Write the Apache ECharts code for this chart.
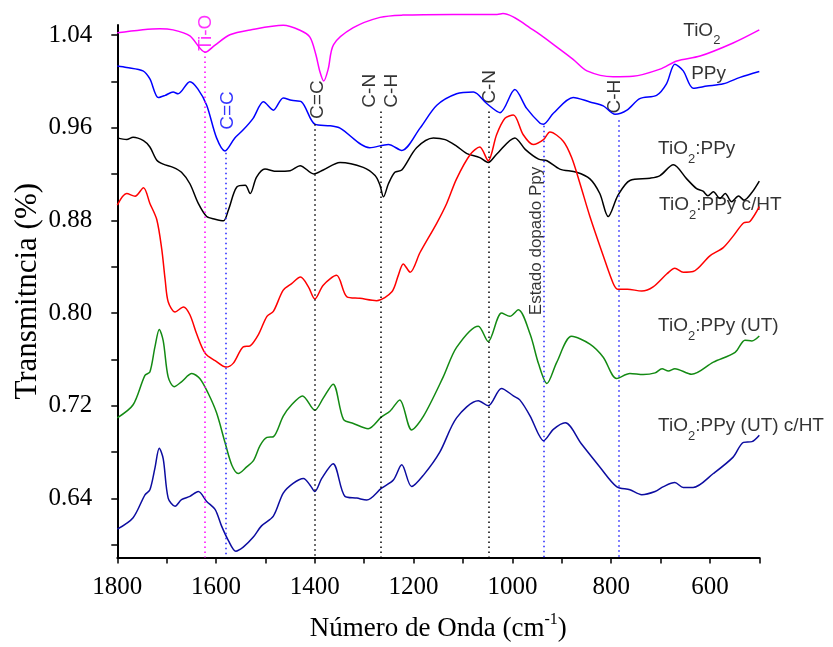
<!DOCTYPE html>
<html>
<head>
<meta charset="utf-8">
<script src="https://cdn.jsdelivr.net/npm/echarts@6/dist/echarts.min.js"></script>
<style>
html, body { margin: 0; padding: 0; background: #fff; }
#eChartIR { width: 833px; height: 647px; }
</style>
</head>
<body>
<div id="eChartIR"></div>
<script>
// [numero de onda, transmitancia]
var tio2 = [
    [1800, 1.0417], [1714, 1.0454], [1687, 1.0443], [1653, 1.039], [1622, 1.0247],
    [1602, 1.031], [1572, 1.040], [1531, 1.0443], [1464, 1.0484], [1430, 1.044],
    [1410, 1.038], [1398, 1.0227], [1390, 1.008], [1382, 0.9994], [1373, 1.0098],
    [1362, 1.0314], [1323, 1.046], [1268, 1.0553], [1222, 1.0573], [1120, 1.0579],
    [1031, 1.0579], [1019, 1.0587], [958, 1.0443], [903, 1.027], [877, 1.0184],
    [849, 1.0083], [796, 1.0031], [756, 1.0035], [701, 1.0098], [667, 1.017],
    [620, 1.0213], [553, 1.0328], [500, 1.0443]
];
var ppy = [
    [1800, 1.0126], [1781, 1.0113], [1748, 1.0083], [1734, 1.0012], [1717, 0.9848],
    [1703, 0.9868], [1687, 0.9897], [1677, 0.9882], [1653, 0.9988], [1637, 0.9925],
    [1619, 0.9781], [1599, 0.9494], [1582, 0.9379], [1562, 0.9494], [1545, 0.9565],
    [1525, 0.9666], [1504, 0.9811], [1484, 0.9738], [1464, 0.9845], [1447, 0.9824],
    [1427, 0.9811], [1400, 0.9615], [1369, 0.960], [1349, 0.958], [1289, 0.9408],
    [1251, 0.9436], [1224, 0.9384], [1187, 0.958], [1153, 0.9781], [1113, 0.9882],
    [1079, 0.9897], [1052, 0.9796], [1025, 0.9716], [995, 0.9919], [971, 0.9753],
    [944, 0.9623], [937, 0.9615], [917, 0.971], [877, 0.985], [843, 0.981],
    [816, 0.9776], [792, 0.9701], [768, 0.9738], [742, 0.9839], [708, 0.9868],
    [688, 0.9969], [671, 1.0141], [654, 1.0083], [634, 0.9931], [606, 0.9949],
    [573, 0.9969], [539, 1.0026], [500, 1.0078]
];
var tio2Ppy = [
    [1800, 0.9494], [1781, 0.9479], [1768, 0.950], [1747, 0.947], [1734, 0.9414],
    [1720, 0.9298], [1707, 0.9263], [1687, 0.9235], [1670, 0.9192], [1653, 0.9091],
    [1636, 0.8918], [1619, 0.8803], [1602, 0.878], [1585, 0.8766], [1575, 0.8861],
    [1558, 0.9062], [1541, 0.9077], [1531, 0.9005], [1518, 0.9149], [1501, 0.922],
    [1477, 0.920], [1450, 0.9206], [1430, 0.925], [1402, 0.9177], [1383, 0.9212],
    [1349, 0.9278], [1302, 0.9235], [1278, 0.9163], [1268, 0.9077], [1261, 0.8976],
    [1251, 0.9091], [1238, 0.9192], [1224, 0.9212], [1194, 0.9408], [1160, 0.9494],
    [1136, 0.9479], [1113, 0.9422], [1092, 0.9356], [1066, 0.9321], [1049, 0.9278],
    [1032, 0.935], [995, 0.9494], [974, 0.9393], [947, 0.9307], [930, 0.9293],
    [904, 0.922], [870, 0.9192], [843, 0.9134], [823, 0.9005], [806, 0.8803],
    [786, 0.8991], [762, 0.912], [721, 0.914], [701, 0.9163], [674, 0.9258],
    [647, 0.9134], [627, 0.9048], [614, 0.9026], [604, 0.8985], [593, 0.902],
    [580, 0.8962], [569, 0.9005], [556, 0.8932], [542, 0.8983], [531, 0.8947],
    [515, 0.9014], [500, 0.9114]
];
var tio2PpyHT = [
    [1800, 0.8904], [1781, 0.9005], [1764, 0.8982], [1747, 0.9056], [1734, 0.8918],
    [1720, 0.8775], [1710, 0.8516], [1703, 0.8243], [1697, 0.8055], [1683, 0.7964],
    [1666, 0.8009], [1653, 0.794], [1639, 0.7768], [1622, 0.7601], [1602, 0.7537],
    [1580, 0.748], [1565, 0.7515], [1545, 0.7658], [1531, 0.7667], [1514, 0.7768],
    [1497, 0.7926], [1484, 0.7969], [1464, 0.8156], [1447, 0.8214], [1429, 0.8271],
    [1413, 0.8185], [1400, 0.8079], [1383, 0.820], [1356, 0.8286], [1335, 0.8098],
    [1309, 0.8085], [1275, 0.8064], [1244, 0.8142], [1231, 0.8286], [1221, 0.8387],
    [1207, 0.8314], [1187, 0.8487], [1153, 0.8746], [1133, 0.8918], [1113, 0.9134],
    [1085, 0.935], [1066, 0.9414], [1049, 0.9293], [1032, 0.9522], [1015, 0.9666],
    [998, 0.9695], [978, 0.9522], [958, 0.9436], [937, 0.9479], [924, 0.9546],
    [897, 0.9465], [880, 0.9321], [863, 0.9091], [843, 0.8803], [816, 0.8458],
    [796, 0.8217], [787, 0.8165], [767, 0.8165], [738, 0.8148], [715, 0.8185],
    [687, 0.830], [671, 0.8349], [654, 0.8314], [634, 0.832], [600, 0.8458],
    [573, 0.853], [553, 0.8631], [532, 0.8746], [519, 0.876], [500, 0.889]
];
var tio2PpyUT = [
    [1800, 0.7034], [1768, 0.7149], [1744, 0.7408], [1734, 0.7437], [1724, 0.7653],
    [1715, 0.7811], [1707, 0.771], [1697, 0.7394], [1685, 0.7308], [1670, 0.7351],
    [1649, 0.7423], [1633, 0.738], [1616, 0.725], [1599, 0.7078], [1582, 0.6819],
    [1568, 0.6618], [1555, 0.6545], [1538, 0.6603], [1524, 0.6661], [1511, 0.679],
    [1497, 0.6862], [1484, 0.6868], [1464, 0.7049], [1447, 0.7149], [1425, 0.7227],
    [1400, 0.7101], [1383, 0.7207], [1363, 0.733], [1342, 0.702], [1322, 0.6985],
    [1292, 0.6939], [1265, 0.7043], [1248, 0.7092], [1228, 0.7192], [1204, 0.6928],
    [1180, 0.7049], [1140, 0.7394], [1113, 0.7653], [1069, 0.784], [1049, 0.7705],
    [1022, 0.7955], [1005, 0.7926], [988, 0.7984], [964, 0.7768], [947, 0.7509],
    [930, 0.7336], [910, 0.7524], [880, 0.775], [843, 0.7682], [816, 0.7567],
    [789, 0.738], [762, 0.7423], [735, 0.7414], [711, 0.7429], [697, 0.7466],
    [684, 0.7446], [671, 0.7466], [637, 0.7417], [593, 0.7524], [549, 0.761],
    [529, 0.7716], [515, 0.771], [500, 0.7753]
];
var tio2PpyUTHT = [
    [1800, 0.6056], [1768, 0.6157], [1744, 0.6358], [1734, 0.6402], [1724, 0.6588],
    [1715, 0.6767], [1707, 0.6674], [1697, 0.6329], [1683, 0.6257], [1670, 0.6315],
    [1653, 0.6344], [1636, 0.6387], [1619, 0.630], [1602, 0.6229], [1589, 0.6085],
    [1575, 0.5956], [1560, 0.5863], [1545, 0.5898], [1525, 0.5984], [1508, 0.6085],
    [1484, 0.6171], [1464, 0.6373], [1444, 0.6459], [1423, 0.6502], [1410, 0.6445],
    [1400, 0.6387], [1386, 0.6502], [1363, 0.6631], [1339, 0.6344], [1315, 0.6329],
    [1295, 0.6312], [1265, 0.6416], [1241, 0.6488], [1224, 0.6622], [1204, 0.643],
    [1180, 0.6531], [1147, 0.6733], [1113, 0.7034], [1069, 0.7184], [1049, 0.714],
    [1022, 0.7293], [998, 0.7227], [985, 0.7192], [964, 0.7049], [947, 0.689],
    [937, 0.6833], [917, 0.6933], [893, 0.6991], [860, 0.6804], [823, 0.6603],
    [789, 0.643], [762, 0.6402], [738, 0.6359], [711, 0.6387], [694, 0.643],
    [671, 0.6465], [654, 0.6422], [634, 0.6422], [593, 0.6545], [553, 0.6689],
    [532, 0.6819], [515, 0.6825], [500, 0.6882]
];

// bandas: [numero de onda, topo da linha pontilhada, cor]
var bandas = [
    [1622, 1.0253, '#ff00ff'],
    [1580, 0.9364, '#2222ff'],
    [1400, 0.9615, '#000000'],
    [1266, 0.9727, '#000000'],
    [1048, 0.9727, '#000000'],
    [936, 0.960, '#2222ff'],
    [785, 0.965, '#2222ff']
];
// rotulos verticais: [texto, numero de onda, transmitancia, cor, tamanho]
var rotulosBandas = [
    ['Ti-O', 1620, 1.0417, '#ff00ff', 19],
    ['C=C', 1577, 0.9735, '#0000ff', 19],
    ['C=C', 1395, 0.983, '#000000', 19],
    ['C-N', 1289, 0.9908, '#000000', 19],
    ['C-H', 1245, 0.9908, '#000000', 19],
    ['C-N', 1045, 0.9943, '#000000', 19],
    ['C-H', 792, 0.9856, '#000000', 19],
    ['Estado dopado Ppy', 952, 0.8588, '#000000', 17]
];
// nomes das amostras: [texto rich, numero de onda, transmitancia]
var rotulosAmostras = [
    ['{n|TiO}{s|2}', 654, 1.0439],
    ['{n|PPy}', 638, 1.0059],
    ['{n|TiO}{s|2}{n|:PPy}', 705, 0.9395],
    ['{n|TiO}{s|2}{n|:PPy c/HT}', 703, 0.8903],
    ['{n|TiO}{s|2}{n|:PPy (UT)}', 705, 0.7841],
    ['{n|TiO}{s|2}{n|:PPy (UT) c/HT}', 705, 0.6961]
];

var yMin = 0.5807, yMax = 1.0486;

var myChart = echarts.init(document.getElementById('eChartIR'));

function curva(nome, dados, cor) {
    return {
        name: nome,
        type: 'line',
        data: dados,
        xAxisIndex: 0,
        yAxisIndex: 0,
        showSymbol: false,
        smooth: 0.3,
        clip: false,
        lineStyle: { color: cor, width: 1.5 },
        silent: true
    };
}

var pontosRotulo = [];
rotulosBandas.forEach(function (r) {
    pontosRotulo.push({
        value: [r[1], r[2]],
        label: {
            show: true,
            formatter: r[0],
            rotate: 90,
            position: 'inside',
            align: 'center',
            verticalAlign: 'middle',
            color: r[3],
            fontSize: r[4],
            fontFamily: 'Liberation Sans'
        }
    });
});
rotulosAmostras.forEach(function (r) {
    pontosRotulo.push({
        value: [r[1], r[2]],
        label: {
            show: true,
            formatter: r[0],
            position: 'right',
            distance: 0,
            rich: {
                n: { fontSize: 19, fontFamily: 'Liberation Sans', color: '#000' },
                s: { fontSize: 13, fontFamily: 'Liberation Sans', color: '#000', padding: [21, 0, 0, 0] }
            }
        }
    });
});

var linhasBandas = bandas.map(function (b) {
    return [
        { coord: [b[0], b[1]], lineStyle: { color: b[2], type: [1.5, 3.5], width: 1.5 } },
        { coord: [b[0], yMin] }
    ];
});

option = {
    backgroundColor: '#fff',
    animation: false,
    grid: [
        { left: 117.3, right: 73.7, top: 25, bottom: 80 },
        { left: 117.3, right: 73.7, top: 35, bottom: 102.3 }
    ],
    xAxis: [
        {
            type: 'value',
            gridIndex: 0,
            min: 500,
            max: 1800,
            interval: 100,
            inverse: true,
            name: '{a|Número de Onda (cm}{b|-1}{a|)}',
            nameLocation: 'middle',
            nameGap: 54,
            nameTextStyle: {
                rich: {
                    a: { fontSize: 27, fontFamily: 'Liberation Serif', color: '#000' },
                    b: { fontSize: 16, fontFamily: 'Liberation Serif', color: '#000', padding: [0, 0, 18, 0] }
                }
            },
            axisLine: { lineStyle: { color: '#000', width: 2 } },
            axisTick: { inside: false, length: 6, lineStyle: { color: '#000', width: 1.5 } },
            axisLabel: {
                margin: 17,
                fontSize: 25,
                fontFamily: 'Liberation Serif',
                color: '#000',
                formatter: function (v) { return v % 200 === 0 ? String(v) : ''; }
            },
            splitLine: { show: false }
        },
        { type: 'value', gridIndex: 1, min: 500, max: 1800, inverse: true, show: false }
    ],
    yAxis: [
        {
            type: 'value',
            gridIndex: 0,
            min: yMin,
            max: yMax,
            name: 'Transmitncia (%)',
            nameLocation: 'middle',
            nameGap: 74,
            nameTextStyle: { fontSize: 31, fontFamily: 'Liberation Serif', color: '#000' },
            axisLine: { show: true, lineStyle: { color: '#000', width: 2 } },
            axisTick: { show: false },
            axisLabel: { show: false },
            splitLine: { show: false }
        },
        {
            type: 'value',
            gridIndex: 1,
            min: 0.60,
            max: 1.04,
            interval: 0.04,
            axisLine: { show: false },
            axisTick: { show: true, inside: false, length: 6, lineStyle: { color: '#000', width: 1.5 } },
            axisLabel: {
                margin: 25,
                fontSize: 25,
                fontFamily: 'Liberation Serif',
                color: '#000',
                formatter: function (v) {
                    var k = v / 0.08;
                    return Math.abs(k - Math.round(k)) < 1e-6 ? v.toFixed(2) : '';
                }
            },
            splitLine: { show: false }
        }
    ],
    series: [
        curva('TiO2', tio2, '#ff00ff'),
        curva('PPy', ppy, '#0000ff'),
        curva('TiO2:PPy', tio2Ppy, '#000000'),
        curva('TiO2:PPy c/HT', tio2PpyHT, '#ff0000'),
        curva('TiO2:PPy (UT)', tio2PpyUT, '#138a13'),
        curva('TiO2:PPy (UT) c/HT', tio2PpyUTHT, '#0c0ca0'),
        {
            type: 'scatter',
            xAxisIndex: 0,
            yAxisIndex: 0,
            symbolSize: 0,
            clip: false,
            silent: true,
            data: pontosRotulo,
            markLine: {
                silent: true,
                symbol: ['none', 'none'],
                label: { show: false },
                data: linhasBandas
            }
        }
    ]
};
myChart.setOption(option);
</script>
</body>
</html>
